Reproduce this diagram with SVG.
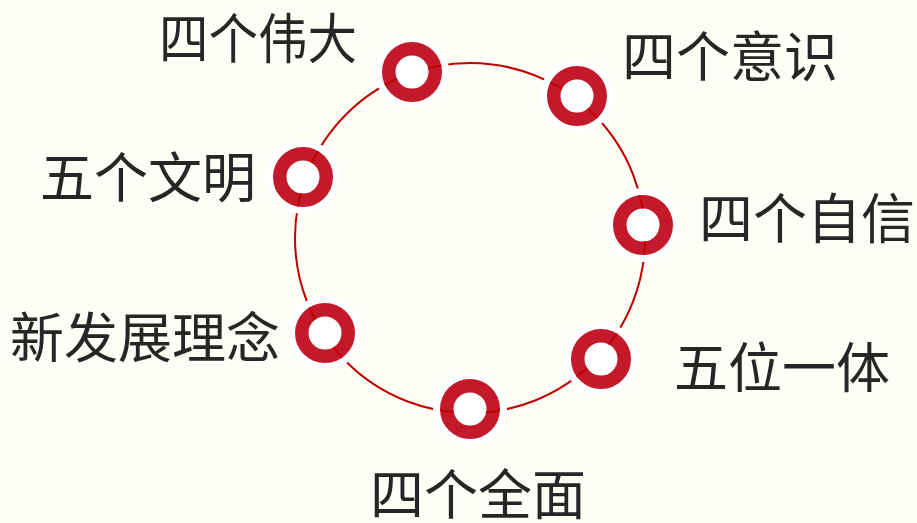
<svg xmlns="http://www.w3.org/2000/svg" width="917" height="523" viewBox="0 0 917 523">
<style>
.lbl{font-family:"Noto Sans CJK SC","Noto Sans",sans-serif;font-size:54px;fill:#262626}
.halo{fill:#ffffff}
.ring{fill:#ffffff;stroke:#c3192b;stroke-width:13.5}
.conn{fill:none;stroke:#c00000;stroke-width:2}
</style>
<defs>
<mask id="m" maskUnits="userSpaceOnUse" x="0" y="0" width="917" height="523">
<rect x="0" y="0" width="917" height="523" fill="#fff"/>
<g fill="#000">
<circle cx="412" cy="72" r="37"/><circle cx="577" cy="96" r="37"/><circle cx="643" cy="225" r="37"/><circle cx="601" cy="359" r="37"/><circle cx="470" cy="409" r="37"/><circle cx="325" cy="333" r="37"/><circle cx="303" cy="177" r="37"/>
</g>
<g fill="none" stroke="#fff" stroke-width="13.5">
<circle cx="412" cy="72" r="23.25"/><circle cx="577" cy="96" r="23.25"/><circle cx="643" cy="225" r="23.25"/><circle cx="601" cy="359" r="23.25"/><circle cx="470" cy="409" r="23.25"/><circle cx="325" cy="333" r="23.25"/><circle cx="303" cy="177" r="23.25"/>
</g>
</mask>
</defs>
<rect x="0" y="0" width="917" height="523" fill="#fefef6"/>
<g id="node-weida"><circle class="halo" cx="412" cy="72" r="37"/><circle class="ring" cx="412" cy="72" r="23.25"/><text class="lbl" x="159" y="59" textLength="198" lengthAdjust="spacingAndGlyphs">四个伟大</text></g>
<g id="node-yishi"><circle class="halo" cx="577" cy="96" r="37"/><circle class="ring" cx="577" cy="96" r="23.25"/><text class="lbl" x="622" y="77">四个意识</text></g>
<g id="node-zixin"><circle class="halo" cx="643" cy="225" r="37"/><circle class="ring" cx="643" cy="225" r="23.25"/><text class="lbl" x="699" y="239">四个自信</text></g>
<g id="node-wuwei"><circle class="halo" cx="601" cy="359" r="37"/><circle class="ring" cx="601" cy="359" r="23.25"/><text class="lbl" x="674" y="388">五位一体</text></g>
<g id="node-quanmian"><circle class="halo" cx="470" cy="409" r="37"/><circle class="ring" cx="470" cy="409" r="23.25"/><text class="lbl" x="370" y="515">四个全面</text></g>
<g id="node-linian"><circle class="halo" cx="325" cy="333" r="37"/><circle class="ring" cx="325" cy="333" r="23.25"/><text class="lbl" x="10" y="358">新发展理念</text></g>
<g id="node-wenming"><circle class="halo" cx="303" cy="177" r="37"/><circle class="ring" cx="303" cy="177" r="23.25"/><text class="lbl" x="40" y="198">五个文明</text></g>
<g id="connectors"><circle class="conn" cx="470" cy="238" r="175" mask="url(#m)"/></g>
</svg>
